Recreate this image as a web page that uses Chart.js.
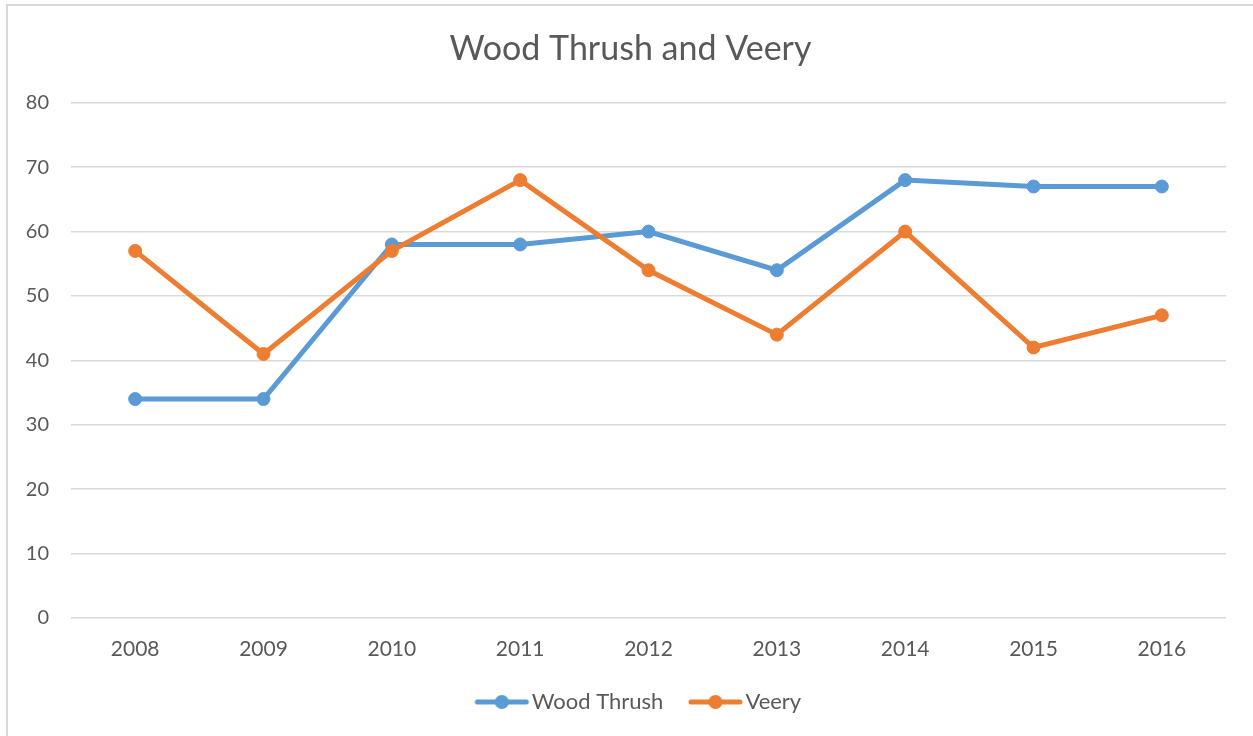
<!DOCTYPE html>
<html>
<head>
<meta charset="utf-8">
<script src="https://cdn.jsdelivr.net/npm/chart.js@4.4.1/dist/chart.umd.min.js"></script>
<style>
  html, body { margin: 0; padding: 0; background: #ffffff; overflow: hidden; }
  #frame { position: absolute; left: 6px; top: 4px; width: 1400px; height: 900px; border: 2px solid #d9d9d9; box-sizing: border-box; }
  #wrap { position: absolute; left: 0; top: 0; width: 1253px; height: 736px; }
</style>
</head>
<body>
<div id="frame"></div>
<div id="wrap"><canvas id="c" width="1253" height="736"></canvas></div>
<script>
const years = ["2008", "2009", "2010", "2011", "2012", "2013", "2014", "2015", "2016"];
const woodThrush = [34, 34, 58, 58, 60, 54, 68, 67, 67];
const veery = [57, 41, 57, 68, 54, 44, 60, 42, 47];
const seriesNames = ["Wood Thrush", "Veery"];
const seriesColors = ["#5B9BD5", "#ED7D31"];
const chartTitle = "Wood Thrush and Veery";

const FONT = "Lato, 'Open Sans', sans-serif";
const TEXT = "#595959";

function legendIcon(color) {
  const cv = document.createElement("canvas");
  cv.width = 80; cv.height = 16;
  const g = cv.getContext("2d");
  g.strokeStyle = color; g.lineWidth = 5; g.lineCap = "round";
  g.beginPath(); g.moveTo(27, 8); g.lineTo(76, 8); g.stroke();
  g.fillStyle = color;
  g.beginPath(); g.arc(51.5, 8, 7, 0, Math.PI * 2); g.fill();
  return cv;
}
const icons = seriesColors.map(legendIcon);

// Shift the title and legend boxes so they are centred like the original.
const centerShift = {
  id: "centerShift",
  afterLayout(chart) {
    const dx = 17.5;
    [chart.titleBlock, chart.legend].forEach(b => { if (b) { b.left += dx; b.right += dx; } });
  }
};

new Chart(document.getElementById("c"), {
  type: "line",
  data: {
    labels: years,
    datasets: [
      { label: seriesNames[0], data: woodThrush, borderColor: seriesColors[0], backgroundColor: seriesColors[0],
        borderWidth: 5, pointRadius: 6.5, pointBorderWidth: 1, pointBackgroundColor: seriesColors[0], tension: 0, order: 1 },
      { label: seriesNames[1], data: veery, borderColor: seriesColors[1], backgroundColor: seriesColors[1],
        borderWidth: 5, pointRadius: 6.5, pointBorderWidth: 1, pointBackgroundColor: seriesColors[1], tension: 0, order: 0 }
    ]
  },
  plugins: [centerShift],
  options: {
    responsive: false,
    animation: false,
    layout: { padding: { left: 0, right: 27, top: 29, bottom: 13 } },
    plugins: {
      tooltip: { enabled: false },
      title: {
        display: true, text: chartTitle, color: TEXT,
        font: { family: FONT, size: 34, weight: "normal" },
        padding: { top: 0, bottom: 33 }
      },
      legend: {
        position: "bottom",
        labels: {
          color: TEXT,
          font: { family: FONT, size: 22 },
          usePointStyle: true,
          pointStyleWidth: 61,
          padding: 10,
          generateLabels: (chart) => chart.data.datasets.map((ds, i) => ({
            text: ds.label, fillStyle: seriesColors[i], strokeStyle: seriesColors[i],
            pointStyle: icons[i], lineWidth: 0, datasetIndex: i, fontColor: TEXT, hidden: false
          }))
        }
      }
    },
    scales: {
      x: {
        offset: true,
        grid: { display: false, drawTicks: false },
        border: { display: false },
        ticks: { color: TEXT, font: { family: FONT, size: 21 }, padding: 19, maxRotation: 0 },
        afterFit: (s) => { s.height = 63; }
      },
      y: {
        min: 0, max: 80,
        grid: { color: "#d9d9d9", lineWidth: 1.5, drawTicks: false },
        border: { display: false },
        ticks: { stepSize: 10, color: TEXT, font: { family: FONT, size: 20 }, padding: 22 },
        afterFit: (s) => { s.width = 71; }
      }
    }
  }
});
</script>
</body>
</html>
